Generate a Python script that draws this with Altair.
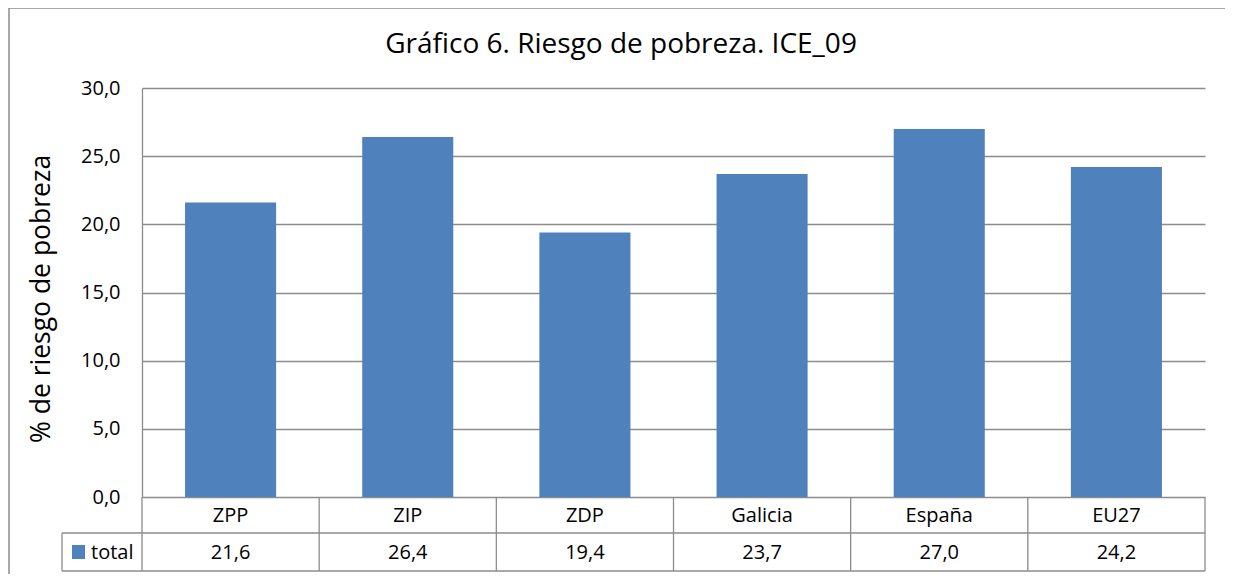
import altair as alt
import pandas as pd

categories = ["ZPP", "ZIP", "ZDP", "Galicia", "España", "EU27"]
values = [21.6, 26.4, 19.4, 23.7, 27.0, 24.2]
series_name = "total"
y_ticks = [0, 5, 10, 15, 20, 25, 30]
title_text = "Gráfico 6. Riesgo de pobreza. ICE_09"
y_title = "% de riesgo de pobreza"

BAR = "#4F81BD"
GRID = "#8C8C8C"
FONT = "Open Sans"

W, H = 1063, 409

df = pd.DataFrame({
    "cat": categories,
    "val": values,
    "label": [f"{v:.1f}".replace(".", ",") for v in values],
})

xs = alt.Scale(domain=categories, paddingInner=0.486, paddingOuter=0.243)

bars = alt.Chart(df).mark_bar(color=BAR).encode(
    x=alt.X("cat:N", scale=xs, sort=categories, axis=None),
    y=alt.Y("val:Q", scale=alt.Scale(domain=[0, 30], nice=False),
            axis=alt.Axis(values=y_ticks, grid=True, gridColor=GRID, gridWidth=1.3,
                          ticks=False, domain=True, domainColor=GRID, domainWidth=1.3,
                          labelPadding=22, labelFontSize=20, labelFont=FONT, labelColor="#000",
                          labelExpr="replace(format(datum.value, '.1f'), '.', ',')",
                          title=y_title, titleFontSize=26.5, titleFont=FONT,
                          titleFontWeight="normal", titleColor="#000",
                          titleX=-87, titleY=H / 2 + 6)),
)

cat_text = alt.Chart(df).mark_text(fontSize=20, font=FONT, color="#000", baseline="middle").encode(
    x=alt.X("cat:N", scale=xs, sort=categories, axis=None),
    y=alt.value(428),
    text="cat:N",
)
val_text = alt.Chart(df).mark_text(fontSize=20, font=FONT, color="#000", baseline="middle").encode(
    x=alt.X("cat:N", scale=xs, sort=categories, axis=None),
    y=alt.value(465),
    text="label:N",
)

# table grid lines (independent quantitative index scale)
idx = pd.DataFrame({"i": list(range(len(categories) + 1))})
qs = alt.Scale(domain=[0, len(categories)], range=[0, W], nice=False, zero=True)
vlines = alt.Chart(idx).mark_rule(color=GRID, strokeWidth=1.3).encode(
    x=alt.X("i:Q", scale=qs, axis=None),
    y=alt.value(H), y2=alt.value(483),
)
hline_mid = alt.Chart(pd.DataFrame({"a": [0]})).mark_rule(color=GRID, strokeWidth=1.3).encode(
    x=alt.value(-80), x2=alt.value(W), y=alt.value(445))
hline_bot = alt.Chart(pd.DataFrame({"a": [0]})).mark_rule(color=GRID, strokeWidth=1.3).encode(
    x=alt.value(-80), x2=alt.value(W), y=alt.value(483))
left_edge = alt.Chart(pd.DataFrame({"a": [0]})).mark_rule(color=GRID, strokeWidth=1.3).encode(
    x=alt.value(-80), y=alt.value(445), y2=alt.value(483))

legend_sq = alt.Chart(pd.DataFrame({"s": [series_name]})).mark_rect(color=BAR).encode(
    x=alt.value(-70), x2=alt.value(-57), y=alt.value(457), y2=alt.value(471))
legend_txt = alt.Chart(pd.DataFrame({"s": [series_name]})).mark_text(
    fontSize=20, font=FONT, color="#000", align="left", baseline="middle").encode(
    x=alt.value(-51), y=alt.value(465), text="s:N")

title = alt.Chart(pd.DataFrame({"t": [title_text]})).mark_text(
    fontSize=28, font=FONT, color="#000", align="center", baseline="middle").encode(
    x=alt.value(479), y=alt.value(-43), text="t:N")

border = alt.Chart(pd.DataFrame({"a": [0]})).mark_rect(
    fill=None, stroke=GRID, strokeWidth=1.5, clip=False).encode(
    x=alt.value(-133), x2=alt.value(1087), y=alt.value(-80), y2=alt.value(492))

chart = alt.layer(
    border, bars, vlines, hline_mid, hline_bot, left_edge, cat_text, val_text,
    legend_sq, legend_txt, title,
).resolve_scale(x="independent").properties(
    width=W, height=H,
    autosize=alt.AutoSizeParams(type="none"),
    padding={"left": 134, "top": 80, "right": 20, "bottom": 77},
    background="white",
).configure_view(stroke=None)

chart.save("out.html", embed_options={"renderer": "svg", "actions": False})
